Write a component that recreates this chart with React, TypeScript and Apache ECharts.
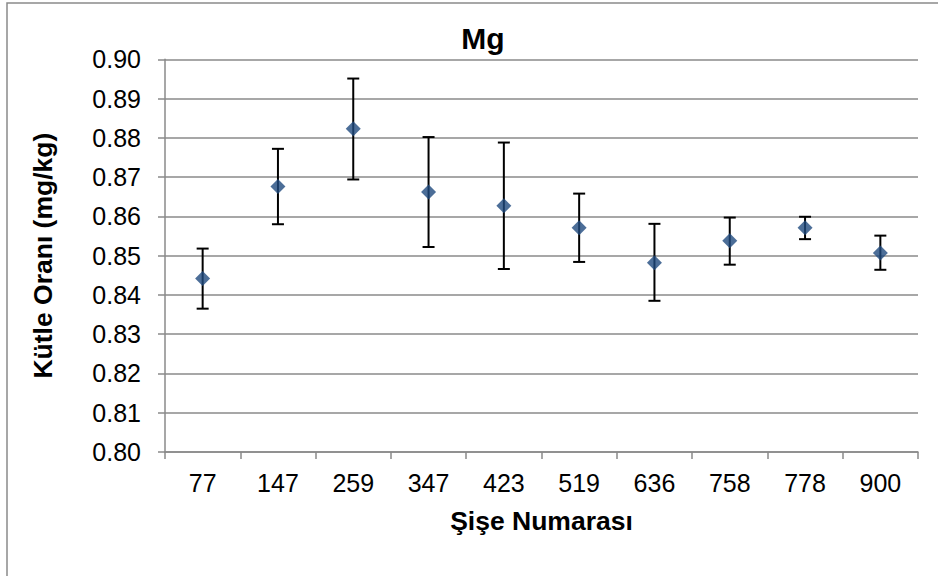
import React, { useEffect, useRef } from "react";
import * as echarts from "echarts";

const categories = ["77", "147", "259", "347", "423", "519", "636", "758", "778", "900"];
const means = [0.8442, 0.8676, 0.8823, 0.8662, 0.8627, 0.8571, 0.8482, 0.8538, 0.8571, 0.8507];
const upper = [0.8518, 0.8772, 0.8951, 0.8802, 0.8788, 0.8658, 0.8581, 0.8597, 0.8599, 0.8551];
const lower = [0.8365, 0.858, 0.8694, 0.8522, 0.8466, 0.8484, 0.8385, 0.8477, 0.8542, 0.8464];

const titleText = "Mg";
const xName = "Şişe Numarası";
const yName = "Kütle Oranı (mg/kg)";

export default function App() {
  const ref = useRef<HTMLDivElement>(null);
  useEffect(() => {
    if (!ref.current) return;
    const chart = echarts.init(ref.current, null, { renderer: "svg" });
    const font = "Arial, 'Liberation Sans', sans-serif";
    const errData = categories.map((_, i) => [i, lower[i], upper[i]]);
    chart.setOption({
      animation: false,
      backgroundColor: "#ffffff",
      title: {
        text: titleText,
        left: 478,
        top: 18,
        textAlign: "center",
        textStyle: { fontFamily: font, fontSize: 30, fontWeight: "bold", color: "#000" },
      },
      graphic: [
        {
          type: "rect",
          shape: { x: 7, y: 3, width: 1000, height: 1000 },
          style: { fill: "none", stroke: "#8a8a8a", lineWidth: 1.5 },
          silent: true,
        },
      ],
      grid: { left: 165, right: 20, top: 59.3, bottom: 124, containLabel: false },
      xAxis: {
        type: "category",
        data: categories,
        boundaryGap: true,
        name: xName,
        nameLocation: "middle",
        nameGap: 55,
        nameTextStyle: { fontFamily: font, fontSize: 26.5, fontWeight: "bold", color: "#000" },
        axisLine: { lineStyle: { color: "#8a8a8a", width: 1.5 } },
        axisTick: { show: true, alignWithLabel: false, length: 7, lineStyle: { color: "#8a8a8a", width: 1.5 } },
        axisLabel: { fontFamily: font, fontSize: 25, color: "#000", margin: 18 },
        splitLine: { show: false },
      },
      yAxis: {
        type: "value",
        min: 0.8,
        max: 0.9,
        interval: 0.01,
        name: yName,
        nameLocation: "middle",
        nameGap: 109,
        nameTextStyle: { fontFamily: font, fontSize: 26.5, fontWeight: "bold", color: "#000" },
        axisLine: { show: true, lineStyle: { color: "#8a8a8a", width: 1.5 } },
        axisTick: { show: true, length: 7, lineStyle: { color: "#8a8a8a", width: 1.5 } },
        axisLabel: {
          fontFamily: font,
          fontSize: 25,
          color: "#000",
          margin: 24,
          formatter: (v: number) => v.toFixed(2),
        },
        splitLine: { show: true, lineStyle: { color: "#8a8a8a", width: 1.5 } },
      },
      series: [
        {
          type: "custom",
          name: "error",
          data: errData,
          z: 2,
          renderItem: (params: any, api: any) => {
            const x = api.value(0);
            const lo = api.coord([x, api.value(1)]);
            const hi = api.coord([x, api.value(2)]);
            const hw = 6;
            const style = { stroke: "#000", lineWidth: 2, fill: "none" };
            return {
              type: "group",
              children: [
                { type: "line", shape: { x1: hi[0], y1: hi[1], x2: lo[0], y2: lo[1] }, style },
                { type: "line", shape: { x1: hi[0] - hw, y1: hi[1], x2: hi[0] + hw, y2: hi[1] }, style },
                { type: "line", shape: { x1: lo[0] - hw, y1: lo[1], x2: lo[0] + hw, y2: lo[1] }, style },
              ],
            };
          },
        },
        {
          type: "scatter",
          name: "Mg",
          data: means,
          symbol: "diamond",
          symbolSize: 15,
          z: 3,
          itemStyle: { color: "#1f4a7e" },
        },
      ],
    });
    return () => chart.dispose();
  }, []);
  return (
    <div
      ref={ref}
      style={{ position: "absolute", left: 0, top: 0, width: 938, height: 576 }}
    />
  );
}
